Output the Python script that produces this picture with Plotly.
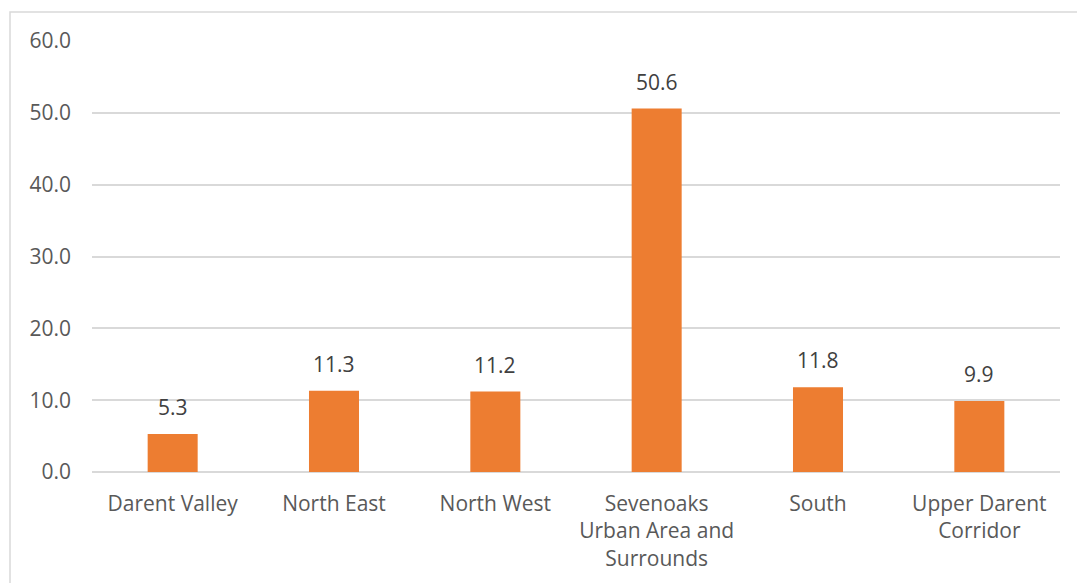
import plotly.graph_objects as go

# Category labels (line-broken as displayed) and values
areas = ["Darent Valley", "North East", "North West",
         "Sevenoaks<br>Urban Area and<br>Surrounds", "South",
         "Upper Darent<br>Corridor"]
values = [5.3, 11.3, 11.2, 50.6, 11.8, 9.9]
y_ticks = [0, 10, 20, 30, 40, 50, 60]

W, H = 1077, 583
L, R, T, B = 92, 17, 41, 111
pw, ph = W - L - R, H - T - B
FONT = "Open Sans"
FS = 21

fig = go.Figure(go.Bar(
    x=areas, y=values,
    marker=dict(color="#ED7D31", line=dict(width=0)),
    width=0.31,
))

# Value labels above each bar
for a, v in zip(areas, values):
    fig.add_annotation(x=a, y=v, text=f"{v:.1f}", showarrow=False,
                       yanchor="bottom", yshift=11,
                       font=dict(family=FONT, size=FS, color="#404040"))

# Outer chart border
fig.add_shape(type="rect", xref="paper", yref="paper",
              x0=(10 - L) / pw, x1=(W + 5 - L) / pw,
              y0=-(B + 5) / ph, y1=1 + (T - 12) / ph,
              line=dict(color="#D9D9D9", width=1.5), layer="below")

fig.update_layout(
    width=W, height=H,
    margin=dict(l=L, r=R, t=T, b=B),
    plot_bgcolor="white", paper_bgcolor="white",
    showlegend=False,
    font=dict(family=FONT, size=FS, color="#595959"),
)
fig.update_yaxes(range=[0, 60], tickvals=y_ticks,
                 ticktext=[f"{t:.1f}" for t in y_ticks],
                 showgrid=True, gridcolor="#D9D9D9", gridwidth=1.5,
                 zeroline=True, zerolinecolor="#D9D9D9", zerolinewidth=1.5,
                 showline=False, ticks="", ticklabelstandoff=20,
                 tickfont=dict(size=FS, color="#595959"))
fig.update_xaxes(showline=False, ticks="", showgrid=False,
                 ticklabelstandoff=17,
                 tickfont=dict(size=FS, color="#595959"))

fig.write_html("out.html")
